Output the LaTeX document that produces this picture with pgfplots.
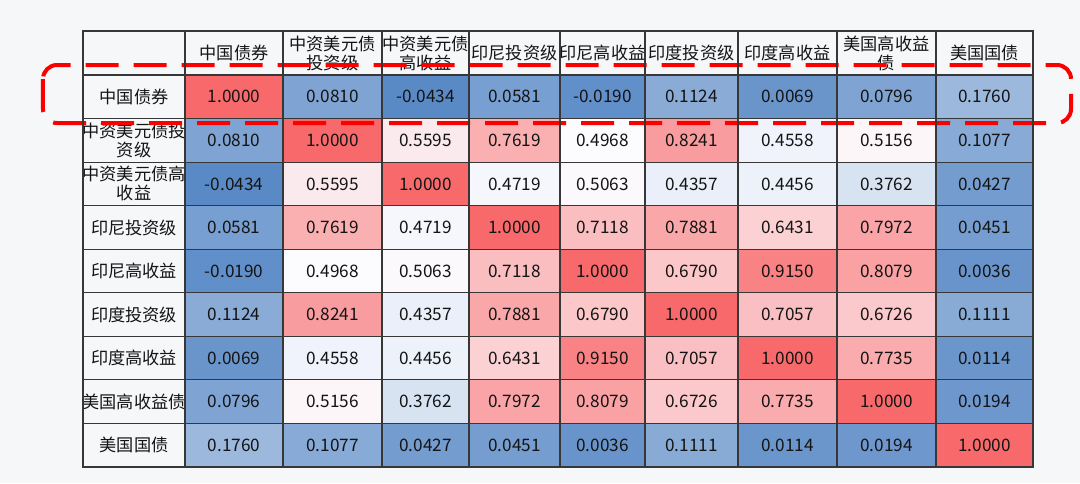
\documentclass[border=0pt]{standalone}
\usepackage{pgfplots}
\pgfplotsset{compat=1.18}
\usepackage{fontspec}
\setmainfont{Noto Sans CJK SC}
\definecolor{bgc}{RGB}{246,247,249}
\definecolor{txt}{RGB}{20,20,20}
\definecolor{dashred}{RGB}{250,0,0}
\definecolor{gridc}{RGB}{55,55,55}
\begin{document}
\begin{tikzpicture}
\begin{axis}[
  scale only axis, width=475pt, height=218pt,
  xmin=83, xmax=1033, ymin=31, ymax=467, y dir=reverse,
  xtick={185,283,382,469,560,645,738,837,936},
  ytick={75,118.6,162.1,205.7,249.2,292.8,336.3,379.9,423.4},
  xticklabels={}, yticklabels={},
  major tick length=0pt,
  grid=major, grid style={gridc, line width=0.55pt},
  axis line style={gridc, line width=0.65pt},
  axis on top, clip=false,
  colormap={rwb}{rgb255(0pt)=(90,138,198) rgb255(540pt)=(252,252,255) rgb255(1043pt)=(248,105,107)},
  point meta min=-0.0434, point meta max=1,
  font=\fontsize{8.6pt}{9.5pt}\selectfont,
]
\fill[bgc] (axis cs:0,0) rectangle (axis cs:1080,483);
\addplot[surf, shader=flat corner, mesh/cols=10, point meta=explicit] table[x=x, y=y, meta=c] {
x y c
185 75 1.0000
283 75 0.0810
382 75 -0.0434
469 75 0.0581
560 75 -0.0190
645 75 0.1124
738 75 0.0069
837 75 0.0796
936 75 0.1760
1033 75 0.1760
185 118.6 0.0810
283 118.6 1.0000
382 118.6 0.5595
469 118.6 0.7619
560 118.6 0.4968
645 118.6 0.8241
738 118.6 0.4558
837 118.6 0.5156
936 118.6 0.1077
1033 118.6 0.1077
185 162.1 -0.0434
283 162.1 0.5595
382 162.1 1.0000
469 162.1 0.4719
560 162.1 0.5063
645 162.1 0.4357
738 162.1 0.4456
837 162.1 0.3762
936 162.1 0.0427
1033 162.1 0.0427
185 205.7 0.0581
283 205.7 0.7619
382 205.7 0.4719
469 205.7 1.0000
560 205.7 0.7118
645 205.7 0.7881
738 205.7 0.6431
837 205.7 0.7972
936 205.7 0.0451
1033 205.7 0.0451
185 249.2 -0.0190
283 249.2 0.4968
382 249.2 0.5063
469 249.2 0.7118
560 249.2 1.0000
645 249.2 0.6790
738 249.2 0.9150
837 249.2 0.8079
936 249.2 0.0036
1033 249.2 0.0036
185 292.8 0.1124
283 292.8 0.8241
382 292.8 0.4357
469 292.8 0.7881
560 292.8 0.6790
645 292.8 1.0000
738 292.8 0.7057
837 292.8 0.6726
936 292.8 0.1111
1033 292.8 0.1111
185 336.3 0.0069
283 336.3 0.4558
382 336.3 0.4456
469 336.3 0.6431
560 336.3 0.9150
645 336.3 0.7057
738 336.3 1.0000
837 336.3 0.7735
936 336.3 0.0114
1033 336.3 0.0114
185 379.9 0.0796
283 379.9 0.5156
382 379.9 0.3762
469 379.9 0.7972
560 379.9 0.8079
645 379.9 0.6726
738 379.9 0.7735
837 379.9 1.0000
936 379.9 0.0194
1033 379.9 0.0194
185 423.4 0.1760
283 423.4 0.1077
382 423.4 0.0427
469 423.4 0.0451
560 423.4 0.0036
645 423.4 0.1111
738 423.4 0.0114
837 423.4 0.0194
936 423.4 1.0000
1033 423.4 1.0000
185 467 0.1760
283 467 0.1077
382 467 0.0427
469 467 0.0451
560 467 0.0036
645 467 0.1111
738 467 0.0114
837 467 0.0194
936 467 1.0000
1033 467 1.0000
};
\addplot[draw=none, mark=none, point meta=explicit symbolic,
  nodes near coords={\pgfplotspointmeta},
  every node near coord/.style={anchor=center, text=txt, inner sep=0pt}]
  table[x=cx, y=cy, meta=lab] {
cx cy lab
234 96.8 1.0000
332.5 96.8 0.0810
425.5 96.8 -0.0434
514.5 96.8 0.0581
602.5 96.8 -0.0190
691.5 96.8 0.1124
787.5 96.8 0.0069
886.5 96.8 0.0796
984.5 96.8 0.1760
234 140.4 0.0810
332.5 140.4 1.0000
425.5 140.4 0.5595
514.5 140.4 0.7619
602.5 140.4 0.4968
691.5 140.4 0.8241
787.5 140.4 0.4558
886.5 140.4 0.5156
984.5 140.4 0.1077
234 183.9 -0.0434
332.5 183.9 0.5595
425.5 183.9 1.0000
514.5 183.9 0.4719
602.5 183.9 0.5063
691.5 183.9 0.4357
787.5 183.9 0.4456
886.5 183.9 0.3762
984.5 183.9 0.0427
234 227.5 0.0581
332.5 227.5 0.7619
425.5 227.5 0.4719
514.5 227.5 1.0000
602.5 227.5 0.7118
691.5 227.5 0.7881
787.5 227.5 0.6431
886.5 227.5 0.7972
984.5 227.5 0.0451
234 271.0 -0.0190
332.5 271.0 0.4968
425.5 271.0 0.5063
514.5 271.0 0.7118
602.5 271.0 1.0000
691.5 271.0 0.6790
787.5 271.0 0.9150
886.5 271.0 0.8079
984.5 271.0 0.0036
234 314.6 0.1124
332.5 314.6 0.8241
425.5 314.6 0.4357
514.5 314.6 0.7881
602.5 314.6 0.6790
691.5 314.6 1.0000
787.5 314.6 0.7057
886.5 314.6 0.6726
984.5 314.6 0.1111
234 358.1 0.0069
332.5 358.1 0.4558
425.5 358.1 0.4456
514.5 358.1 0.6431
602.5 358.1 0.9150
691.5 358.1 0.7057
787.5 358.1 1.0000
886.5 358.1 0.7735
984.5 358.1 0.0114
234 401.7 0.0796
332.5 401.7 0.5156
425.5 401.7 0.3762
514.5 401.7 0.7972
602.5 401.7 0.8079
691.5 401.7 0.6726
787.5 401.7 0.7735
886.5 401.7 1.0000
984.5 401.7 0.0194
234 445.2 0.1760
332.5 445.2 0.1077
425.5 445.2 0.0427
514.5 445.2 0.0451
602.5 445.2 0.0036
691.5 445.2 0.1111
787.5 445.2 0.0114
886.5 445.2 0.0194
984.5 445.2 1.0000
};
% column headers
\begin{scope}[every node/.style={text=txt, align=center, inner sep=0pt}]
\node at (axis cs:234,53) {中国债券};
\node at (axis cs:332.5,53) {中资美元债\\投资级};
\node at (axis cs:425.5,53) {中资美元债\\高收益};
\node at (axis cs:514.5,53) {印尼投资级};
\node at (axis cs:602.5,53) {印尼高收益};
\node at (axis cs:691.5,53) {印度投资级};
\node at (axis cs:787.5,53) {印度高收益};
\node at (axis cs:886.5,53) {美国高收益\\债};
\node at (axis cs:984.5,53) {美国国债};
% row labels
\node at (axis cs:134,96.8) {中国债券};
\node at (axis cs:134,140.4) {中资美元债投\\资级};
\node at (axis cs:134,183.9) {中资美元债高\\收益};
\node at (axis cs:134,227.5) {印尼投资级};
\node at (axis cs:134,271.0) {印尼高收益};
\node at (axis cs:134,314.6) {印度投资级};
\node at (axis cs:134,358.1) {印度高收益};
\node at (axis cs:134,401.7) {美国高收益债};
\node at (axis cs:134,445.2) {美国国债};
\end{scope}
\draw[dashred, line width=2pt, dash pattern=on 16.5pt off 7.5pt, rounded corners=7pt]
  (axis cs:43,65) rectangle (axis cs:1071,123);
\end{axis}
\end{tikzpicture}
\end{document}
